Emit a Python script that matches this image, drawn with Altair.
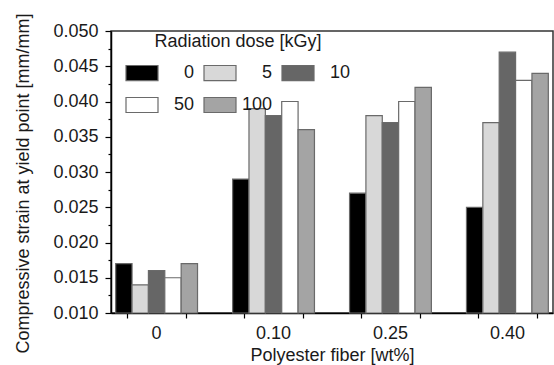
import altair as alt
import pandas as pd

# ---- data ----
FIBER = ["0", "0.10", "0.25", "0.40"]
DOSES = ["0", "5", "10", "50", "100"]
dose_0 = [0.017, 0.029, 0.027, 0.025]
dose_5 = [0.014, 0.039, 0.038, 0.037]
dose_10 = [0.016, 0.038, 0.037, 0.047]
dose_50 = [0.015, 0.040, 0.040, 0.043]
dose_100 = [0.017, 0.036, 0.042, 0.044]
COLORS = ["#000000", "#d8d8d8", "#666666", "#ffffff", "#a4a4a4"]
Y_MIN, Y_MAX = 0.010, 0.050

series = {"0": dose_0, "5": dose_5, "10": dose_10, "50": dose_50, "100": dose_100}
rows = []
for d in DOSES:
    for f, v in zip(FIBER, series[d]):
        rows.append({"fiber": f, "dose": d, "strain": v})
df = pd.DataFrame(rows)

FONT = "Liberation Sans"
FS = 18
TXT = "#1a1a1a"

P_INNER, P_OUTER = 0.3, 0.04
TOTAL = len(FIBER) - P_INNER + 2 * P_OUTER
x_ticks = []
for i in range(len(FIBER)):
    c = P_OUTER + i + (1 - P_INNER) / 2
    x_ticks += [c - 0.25, c + 0.25]

y_ticks = [round(Y_MIN + 0.0025 * k, 4) for k in range(17)]

bars = alt.Chart(df).mark_bar(stroke="#6a6a6a", strokeWidth=1.2).encode(
    x=alt.X("fiber:N", sort=FIBER,
            scale=alt.Scale(paddingInner=P_INNER, paddingOuter=P_OUTER),
            axis=alt.Axis(title="Polyester fiber [wt%]", labelAngle=0, ticks=False,
                          domain=True, domainColor="#000000", domainWidth=1.5,
                          labelPadding=11, titlePadding=4)),
    xOffset=alt.XOffset("dose:N", sort=DOSES, scale=alt.Scale(paddingInner=0, paddingOuter=0)),
    y=alt.Y("strain:Q", scale=alt.Scale(domain=[Y_MIN, Y_MAX], nice=False, zero=False),
            axis=alt.Axis(title="Compressive strain at yield point [mm/mm]",
                          values=y_ticks,
                          labelExpr="round(datum.value*400) % 2 == 0 ? format(datum.value, '.3f') : ''",
                          tickSize={"condition": {"test": "round(datum.value*400) % 2 == 0", "value": 6}, "value": 3},
                          tickColor="#000000", tickWidth=1.2,
                          domainColor="#000000", domainWidth=1.5,
                          labelPadding=7, titlePadding=20, titleY=152)),
    y2=alt.Y2(datum=Y_MIN),
    color=alt.Color("dose:N", sort=DOSES,
                    scale=alt.Scale(domain=DOSES, range=COLORS),
                    legend=alt.Legend(title="Radiation dose [kGy]", orient="none",
                                      direction="horizontal",
                                      legendX=14, legendY=2, columns=3,
                                      symbolType="M-1,-0.47H1V0.47H-1Z", symbolSize=1024,
                                      symbolStrokeColor="#6a6a6a", symbolStrokeWidth=1.2,
                                      labelAlign="right", labelOffset=35,
                                      columnPadding=7, rowPadding=5,
                                      titleAnchor="middle", padding=0)),
)

tick_layer = alt.Chart(pd.DataFrame({"t": x_ticks})).mark_point(opacity=0).encode(
    x=alt.X("t:Q", scale=alt.Scale(domain=[0, TOTAL], nice=False, zero=False),
            axis=alt.Axis(values=x_ticks, labels=False, title=None, domain=False,
                          tickSize=5, tickColor="#000000", tickWidth=1.2,
                          orient="bottom", grid=False)),
)

chart = alt.layer(bars, tick_layer).resolve_scale(x="independent").properties(
    width=442, height=282,
    autosize=alt.AutoSizeParams(type="none"),
    padding={"left": 111, "top": 31, "right": 1, "bottom": 52},
).configure(font=FONT).configure_view(
    stroke="#333333", strokeWidth=1.5
).configure_axis(
    labelFont=FONT, labelFontSize=FS, labelColor=TXT,
    titleFont=FONT, titleFontSize=FS, titleColor=TXT, titleFontWeight="normal",
    grid=False,
).configure_legend(
    labelFont=FONT, labelFontSize=FS, labelColor=TXT,
    titleFont=FONT, titleFontSize=FS, titleColor=TXT, titleFontWeight="normal",
)

chart.save("out.html", embed_options={"renderer": "svg", "actions": False})
